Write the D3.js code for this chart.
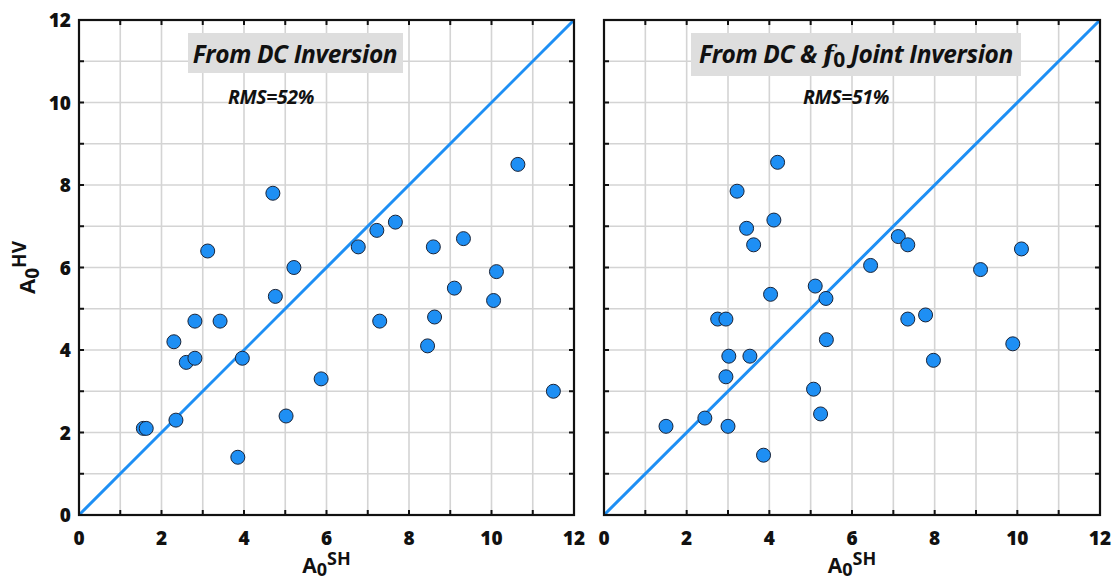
<!DOCTYPE html>
<html>
<head>
<meta charset="utf-8">
<script src="https://cdn.jsdelivr.net/npm/d3@7"></script>
<style>
  html, body { margin: 0; padding: 0; background: #fff; }
  svg { display: block; }
  text { font-family: "Open Sans", Lato, sans-serif; }
</style>
</head>
<body>
<svg id="chart" width="1116" height="582"></svg>
<script>
// A0 amplitude from the SH transfer function (x) vs. A0 from the H/V ratio (y)
const dcSH = [1.56, 1.63, 2.30, 2.35, 2.60, 2.81, 2.81, 3.12, 3.42, 3.85, 3.96, 4.70, 4.76, 5.02, 5.21,
              5.87, 6.77, 7.22, 7.29, 7.67, 8.45, 8.59, 8.62, 9.10, 9.32, 10.05, 10.12, 10.64, 11.50];
const dcHV = [2.10, 2.10, 4.20, 2.30, 3.70, 3.80, 4.70, 6.40, 4.70, 1.40, 3.80, 7.80, 5.30, 2.40, 6.00,
              3.30, 6.50, 6.90, 4.70, 7.10, 4.10, 6.50, 4.80, 5.50, 6.70, 5.20, 5.90, 8.50, 3.00];

const jointSH = [1.50, 2.44, 2.75, 2.95, 2.95, 3.00, 3.02, 3.22, 3.45, 3.53, 3.62, 3.86, 4.03, 4.11, 4.20,
                 5.07, 5.11, 5.24, 5.37, 5.38, 6.45, 7.12, 7.35, 7.35, 7.78, 7.97, 9.11, 9.89, 10.10];
const jointHV = [2.15, 2.35, 4.75, 4.75, 3.35, 2.15, 3.85, 7.85, 6.95, 3.85, 6.55, 1.45, 5.35, 7.15, 8.55,
                 3.05, 5.55, 2.45, 5.25, 4.25, 6.05, 6.75, 6.55, 4.75, 4.85, 3.75, 5.95, 4.15, 6.45];

const axisDomain = [0, 12];
const labelTicks = [0, 2, 4, 6, 8, 10, 12];
const minorTicks = d3.range(0, 13);

const panels = [
  { title: "From DC Inversion", rms: "RMS=52%", sh: dcSH, hv: dcHV,
    x0: 79, x1: 574, yLabels: true, box: [188, 33, 215, 40], titleX: 295, rmsX: 271 },
  { title: "joint", rms: "RMS=51%", sh: jointSH, hv: jointHV,
    x0: 604, x1: 1100, yLabels: false, box: [691, 33, 330, 43], titleX: 856, rmsX: 846 }
];
const yTop = 20, yBottom = 515;

const svg = d3.select("#chart");
const blue = "#1e8ff4";

panels.forEach(p => {
  const x = d3.scaleLinear().domain(axisDomain).range([p.x0, p.x1]);
  const y = d3.scaleLinear().domain(axisDomain).range([yBottom, yTop]);
  const g = svg.append("g");

  // grid at every unit
  g.append("g").selectAll("line").data(minorTicks).join("line")
    .attr("x1", d => x(d)).attr("x2", d => x(d)).attr("y1", yTop).attr("y2", yBottom)
    .attr("stroke", "#d4d4d4").attr("stroke-width", 1.6);
  g.append("g").selectAll("line").data(minorTicks).join("line")
    .attr("y1", d => y(d)).attr("y2", d => y(d)).attr("x1", p.x0).attr("x2", p.x1)
    .attr("stroke", "#d4d4d4").attr("stroke-width", 1.6);

  // title box
  g.append("rect").attr("x", p.box[0]).attr("y", p.box[1])
    .attr("width", p.box[2]).attr("height", p.box[3]).attr("fill", "#dedede");

  const t = g.append("text").attr("x", p.titleX).attr("y", 63)
    .attr("text-anchor", "middle").attr("font-size", 24.5).attr("letter-spacing", -0.4)
    .attr("font-weight", "bold").attr("font-style", "italic").attr("fill", "#111");
  if (p.title === "joint") {
    t.append("tspan").text("From DC & ");
    t.append("tspan").attr("font-family", "DejaVu Serif").attr("font-size", 25).text("f");
    t.append("tspan").attr("dy", 4).attr("font-style", "normal").attr("font-size", 21).text("0");
    t.append("tspan").attr("dy", -4).text(" Joint Inversion");
  } else {
    t.text(p.title);
  }

  g.append("text").attr("x", p.rmsX).attr("y", 104).attr("text-anchor", "middle")
    .attr("font-size", 19.5).attr("font-weight", "bold").attr("font-style", "italic")
    .attr("letter-spacing", -0.4).attr("fill", "#111").text(p.rms);

  // 1:1 reference line
  g.append("line")
    .attr("x1", x(axisDomain[0])).attr("y1", y(axisDomain[0]))
    .attr("x2", x(axisDomain[1])).attr("y2", y(axisDomain[1]))
    .attr("stroke", blue).attr("stroke-width", 3);

  // data points
  g.append("g").selectAll("circle").data(p.sh.map((v, k) => [v, p.hv[k]])).join("circle")
    .attr("cx", d => x(d[0])).attr("cy", d => y(d[1])).attr("r", 7)
    .attr("fill", blue).attr("stroke", "#1a2438").attr("stroke-width", 1);

  // inward ticks on all four sides
  const tickLen = 5;
  const tg = g.append("g").attr("stroke", "#111").attr("stroke-width", 2);
  minorTicks.forEach(d => {
    tg.append("line").attr("x1", x(d)).attr("x2", x(d)).attr("y1", yBottom).attr("y2", yBottom - tickLen);
    tg.append("line").attr("x1", x(d)).attr("x2", x(d)).attr("y1", yTop).attr("y2", yTop + tickLen);
    tg.append("line").attr("y1", y(d)).attr("y2", y(d)).attr("x1", p.x0).attr("x2", p.x0 + tickLen);
    tg.append("line").attr("y1", y(d)).attr("y2", y(d)).attr("x1", p.x1).attr("x2", p.x1 - tickLen);
  });

  // frame
  g.append("rect").attr("x", p.x0).attr("y", yTop)
    .attr("width", p.x1 - p.x0).attr("height", yBottom - yTop)
    .attr("fill", "none").attr("stroke", "#111").attr("stroke-width", 2.2);

  // tick labels
  g.append("g").selectAll("text").data(labelTicks).join("text")
    .attr("x", d => x(d)).attr("y", yBottom + 30).attr("text-anchor", "middle")
    .attr("font-size", 19).attr("font-weight", 800).attr("fill", "#111").text(d => d);
  if (p.yLabels) {
    g.append("g").selectAll("text").data(labelTicks).join("text")
      .attr("x", p.x0 - 8).attr("y", d => y(d) + 7).attr("text-anchor", "end")
      .attr("font-size", 19).attr("font-weight", 800).attr("fill", "#111").text(d => d);
  }

  // x-axis title
  const xt = g.append("text").attr("x", (p.x0 + p.x1) / 2).attr("y", 573)
    .attr("text-anchor", "middle").attr("font-size", 21).attr("font-weight", "bold").attr("fill", "#111");
  xt.append("tspan").text("A");
  xt.append("tspan").attr("dy", 3).attr("font-size", 18).text("0");
  xt.append("tspan").attr("dy", -11).attr("font-size", 18).text("SH");

  if (p.yLabels) {
    const yt = g.append("text")
      .attr("transform", `translate(35, ${(yTop + yBottom) / 2}) rotate(-90)`)
      .attr("text-anchor", "middle").attr("font-size", 22).attr("font-weight", "bold").attr("fill", "#111");
    yt.append("tspan").text("A");
    yt.append("tspan").attr("dy", 4).attr("font-size", 19).text("0");
    yt.append("tspan").attr("dy", -13).attr("font-size", 19).text("HV");
  }
});
</script>
</body>
</html>
